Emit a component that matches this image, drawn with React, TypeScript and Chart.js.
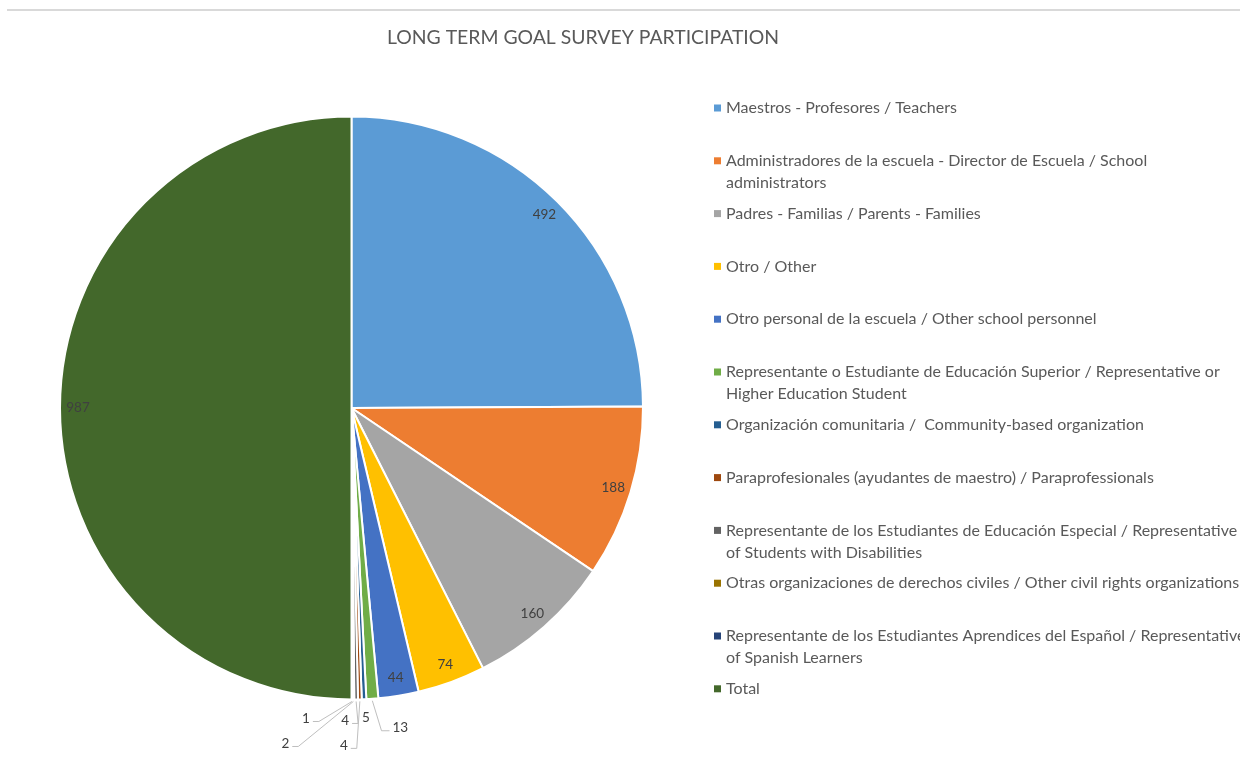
import React, { useEffect, useRef } from "react";
import { Chart, registerables } from "chart.js";

Chart.register(...registerables);

const TITLE = "LONG TERM GOAL SURVEY PARTICIPATION";

const categories: string[][] = [
  ["Maestros - Profesores / Teachers"],
  ["Administradores de la escuela - Director de Escuela / School", "administrators"],
  ["Padres - Familias / Parents - Families"],
  ["Otro / Other"],
  ["Otro personal de la escuela / Other school personnel"],
  ["Representante o Estudiante de Educación Superior / Representative or", "Higher Education Student"],
  ["Organización comunitaria /  Community-based organization"],
  ["Paraprofesionales (ayudantes de maestro) / Paraprofessionals"],
  ["Representante de los Estudiantes de Educación Especial / Representative", "of Students with Disabilities"],
  ["Otras organizaciones de derechos civiles / Other civil rights organizations"],
  ["Representante de los Estudiantes Aprendices del Español / Representative", "of Spanish Learners"],
  ["Total"],
];

const participants: number[] = [492, 188, 160, 74, 44, 13, 5, 4, 4, 2, 1, 987];

const sliceColors: string[] = [
  "#5B9BD5", "#ED7D31", "#A5A5A5", "#FFC000", "#4472C4", "#70AD47",
  "#255E91", "#9E480E", "#636363", "#997300", "#264478", "#43682B",
];

// label placement for the thin slices (offset from the slice's outer mid point), leader flag
const outsideLabels: Record<number, { dx: number; dy: number; leader: boolean }> = {
  5: { dx: 28, dy: 29, leader: true },
  6: { dx: 2, dy: 18, leader: false },
  7: { dx: -16, dy: 46, leader: true },
  8: { dx: -11, dy: 21, leader: true },
  9: { dx: -68, dy: 44, leader: true },
  10: { dx: -46, dy: 19, leader: true },
};

const FONT = "Lato, 'Open Sans', sans-serif";

const decorPlugin = {
  id: "decor",
  beforeDraw(chart: any) {
    const ctx = chart.ctx as CanvasRenderingContext2D;
    ctx.save();
    ctx.fillStyle = "#ffffff";
    ctx.fillRect(0, 0, chart.width, chart.height);
    ctx.strokeStyle = "#d9d9d9";
    ctx.lineWidth = 2;
    ctx.beginPath();
    ctx.moveTo(7, 10);
    ctx.lineTo(chart.width, 10);
    ctx.stroke();
    ctx.fillStyle = "#595959";
    ctx.font = `19.4px ${FONT}`;
    ctx.textAlign = "center";
    ctx.textBaseline = "middle";
    ctx.fillText(TITLE, 583, 38);
    ctx.restore();
  },
  afterDatasetsDraw(chart: any) {
    const ctx = chart.ctx as CanvasRenderingContext2D;
    const meta = chart.getDatasetMeta(0);
    const values = chart.data.datasets[0].data as number[];
    ctx.save();
    ctx.font = `13.5px ${FONT}`;
    ctx.fillStyle = "#404040";
    ctx.textAlign = "center";
    ctx.textBaseline = "middle";
    meta.data.forEach((arc: any, i: number) => {
      const p = arc.getProps(["x", "y", "startAngle", "endAngle", "outerRadius"], true);
      const mid = (p.startAngle + p.endAngle) / 2;
      const text = String(values[i]);
      const o = outsideLabels[i];
      if (!o) {
        const rr = p.outerRadius - 18;
        ctx.fillText(text, p.x + Math.cos(mid) * rr, p.y + Math.sin(mid) * rr);
      } else {
        const ox = p.x + Math.cos(mid) * p.outerRadius;
        const oy = p.y + Math.sin(mid) * p.outerRadius;
        const lx = ox + o.dx;
        const ly = oy + o.dy;
        ctx.fillText(text, lx, ly);
        if (o.leader) {
          const w = ctx.measureText(text).width;
          const lineY = ly + 3;
          let endX: number, elbowX: number;
          if (o.dx < 0) {
            endX = lx + w / 2 + 3;
            elbowX = endX + 6;
          } else {
            endX = lx - w / 2 - 3;
            elbowX = endX - 8;
          }
          ctx.strokeStyle = "#bfbfbf";
          ctx.lineWidth = 1;
          ctx.beginPath();
          ctx.moveTo(ox, oy + 2);
          ctx.lineTo(elbowX, lineY);
          ctx.lineTo(endX, lineY);
          ctx.stroke();
        }
      }
    });
    ctx.restore();
  },
  afterDraw(chart: any) {
    const ctx = chart.ctx as CanvasRenderingContext2D;
    const labels = chart.data.labels as string[][];
    const colors = chart.data.datasets[0].backgroundColor as string[];
    ctx.save();
    ctx.font = `16px ${FONT}`;
    ctx.textAlign = "left";
    ctx.textBaseline = "middle";
    labels.forEach((lines, i) => {
      const y = 108 + i * 52.8;
      ctx.fillStyle = colors[i];
      ctx.fillRect(714, y - 3.5, 7, 7);
      ctx.fillStyle = "#595959";
      lines.forEach((line, k) => {
        ctx.fillText(line, 726, y + k * 22);
      });
    });
    ctx.restore();
  },
};

export default function App() {
  const ref = useRef<HTMLCanvasElement | null>(null);
  useEffect(() => {
    if (!ref.current) return;
    const chart = new Chart(ref.current, {
      type: "pie",
      data: {
        labels: categories as any,
        datasets: [
          {
            data: participants,
            backgroundColor: sliceColors,
            borderColor: "#ffffff",
            borderWidth: 2,
          },
        ],
      },
      options: {
        animation: false,
        responsive: false,
        devicePixelRatio: 1,
        layout: { padding: { left: 59, top: 115, right: 596, bottom: 57 } },
        plugins: {
          legend: { display: false },
          title: { display: false },
          tooltip: { enabled: false },
        },
      },
      plugins: [decorPlugin],
    });
    return () => chart.destroy();
  }, []);
  return (
    <div style={{ position: "fixed", left: 0, top: 0, width: 1240, height: 758, background: "#fff" }}>
      <canvas ref={ref} width={1240} height={758} style={{ width: 1240, height: 758, display: "block" }} />
    </div>
  );
}
